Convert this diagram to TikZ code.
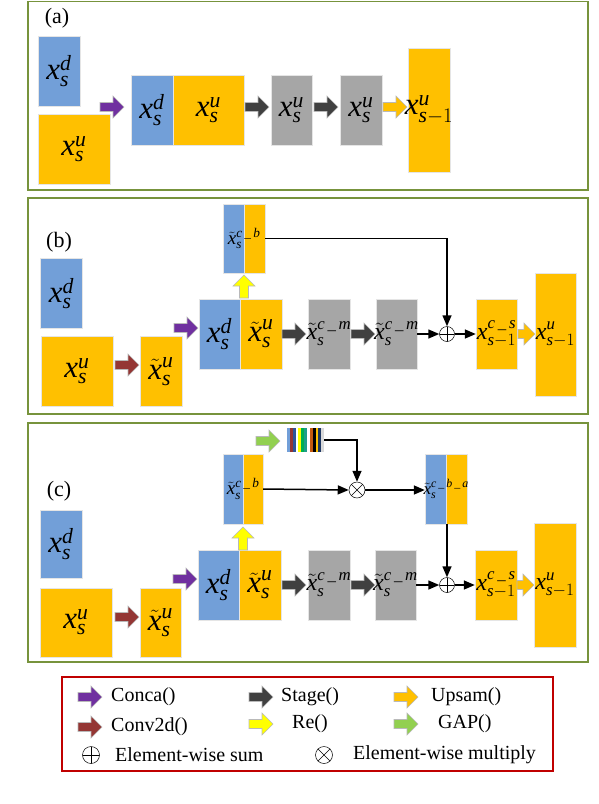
\documentclass[tikz,border=0pt]{standalone}
\usepackage{amsmath}
\usepackage{fontspec}
\setmainfont{Liberation Serif}
\usetikzlibrary{arrows.meta}

\definecolor{cblue}{RGB}{114,159,216}
\definecolor{corange}{RGB}{255,192,0}
\definecolor{cgray}{RGB}{166,166,166}
\definecolor{cpurple}{RGB}{112,48,160}
\definecolor{cdark}{RGB}{64,64,64}
\definecolor{cbrown}{RGB}{148,54,52}
\definecolor{cyellow}{RGB}{255,255,0}
\definecolor{cgreen}{RGB}{146,208,80}
\definecolor{cframe}{RGB}{119,147,60}
\definecolor{clegend}{RGB}{192,0,0}
\definecolor{cnavy}{RGB}{46,85,151}
\definecolor{cgap}{RGB}{0,176,80}
\definecolor{cteal}{RGB}{31,158,137}
\definecolor{crust}{RGB}{197,90,17}
\definecolor{cdeep}{RGB}{31,56,100}
\definecolor{clight}{RGB}{217,217,217}

\newcommand{\xs}[2]{$\textit{x}_{#1}^{#2}$}
\newcommand{\txs}[2]{$\tilde{\textit{x}}_{#1}^{#2}$}

\tikzset{
  box/.style 2 args={rectangle, inner sep=0pt, minimum width=#1, minimum height=#2,
    draw=white!80!gray, line width=0.4pt},
  lbig/.style={font=\fontsize{31}{33}\selectfont, inner sep=0pt},
  lmid/.style={font=\fontsize{24}{26}\selectfont, inner sep=0pt},
  lsmall/.style={font=\fontsize{19}{21}\selectfont, inner sep=0pt},
  ltiny/.style={font=\fontsize{17}{19}\selectfont, inner sep=0pt},
  plabel/.style={font=\fontsize{22}{24}\selectfont},
  legtext/.style={font=\fontsize{20}{22}\selectfont, anchor=west, inner sep=0pt},
  frame/.style={draw=cframe, line width=1.5pt},
  conn/.style={line width=1.5pt, -{Triangle[length=11pt,width=9pt]}},
  sumnode/.style={circle, draw, line width=0.5pt, minimum size=15pt, inner sep=0pt,
    path picture={\draw[line width=0.5pt] (path picture bounding box.north) -- (path picture bounding box.south)
      (path picture bounding box.west) -- (path picture bounding box.east);}},
  mulnode/.style={circle, draw, line width=0.5pt, minimum size=16pt, inner sep=0pt,
    path picture={\draw[line width=0.5pt] (path picture bounding box.north west) -- (path picture bounding box.south east)
      (path picture bounding box.south west) -- (path picture bounding box.north east);}},
  pics/barrow/.style 2 args={code={
    \draw[fill=#1, draw=gray!55, line width=0.6pt] (0,-4.5) -- ({#2-11},-4.5) -- ({#2-11},-11)
      -- (#2,0) -- ({#2-11},11) -- ({#2-11},4.5) -- (0,4.5) -- cycle;}},
  pics/uarrow/.style 2 args={code={
    \draw[fill=#1, draw=gray!55, line width=0.6pt] (-4.5,0) -- (-4.5,{-(#2-11)}) -- (-11,{-(#2-11)})
      -- (0,-#2) -- (11,{-(#2-11)}) -- (4.5,{-(#2-11)}) -- (4.5,0) -- cycle;}}
}

\begin{document}
\begin{tikzpicture}[x=1pt, y=-1pt]
\useasboundingbox (0,0) rectangle (598,804);

% (a)
\draw[frame] (28,1.5) rectangle (588,190);
\node[plabel] (la) at (57,18) {(a)};

\node[box={42}{70}, fill=cblue, label={[lbig]center:\xs{\textit{s}}{\textit{d}}}] (ad) at (59,71) {};
\node[box={72}{70}, fill=corange, label={[lbig]center:\xs{\textit{s}}{\textit{u}}}] (au) at (74,149) {};
\pic at (100,107) {barrow={cpurple}{24}};
\node[box={42}{70}, fill=cblue, label={[lbig]center:\xs{\textit{s}}{\textit{d}}}] (acd) at (152,110) {};
\node[box={71}{70}, fill=corange, label={[lbig]center:\xs{\textit{s}}{\textit{u}}}] (acu) at (208.5,110) {};
\pic at (245,107) {barrow={cdark}{24}};
\node[box={41}{70}, fill=cgray, label={[lbig]center:\xs{\textit{s}}{\textit{u}}}] (ag1) at (291.5,110) {};
\pic at (314,107) {barrow={cdark}{24}};
\node[box={42}{70}, fill=cgray, label={[lbig]center:\xs{\textit{s}}{\textit{u}}}] (ag2) at (361,110) {};
\pic at (383,107) {barrow={corange}{24}};
\node[box={42}{124}, fill=corange, label={[lbig]center:\xs{\textit{s}-1}{\textit{u}}}] (aout) at (429,110) {};

% (b)
\draw[frame] (28,198) rectangle (588,414);
\node[plabel] (lb) at (59,242) {(b)};

\node[box={42}{70}, fill=cblue, label={[lbig]center:\xs{\textit{s}}{\textit{d}}}] (bd) at (61.5,293.5) {};
\node[box={72}{70}, fill=corange, label={[lbig]center:\xs{\textit{s}}{\textit{u}}}] (bu) at (77,371.5) {};
\pic at (115,365) {barrow={cbrown}{24}};
\node[box={42}{70}, fill=corange, label={[lbig]center:\txs{\textit{s}}{\textit{u}}}] (bt) at (161,371.5) {};
\pic at (174,328) {barrow={cpurple}{24}};
\node[box={41}{70}, fill=cblue, label={[lbig]center:\xs{\textit{s}}{\textit{d}}}] (bcd) at (219.5,334) {};
\node[box={42}{70}, fill=corange, label={[lbig]center:\txs{\textit{s}}{\textit{u}}}] (bcu) at (261,334) {};
\pic at (244,298) {uarrow={cyellow}{23}};
\node[box={21}{69}, fill=cblue] (bbd) at (233.5,238.5) {};
\node[box={21}{69}, fill=corange] (bbu) at (254.5,238.5) {};
\node[lsmall] (bbl) at (bbd.east) {\txs{\textit{s}}{\textit{c\,\_\,b}}};
\pic at (282,334) {barrow={cdark}{24}};
\node[box={42}{70}, fill=cgray, label={[lmid]center:\txs{\textit{s}}{\textit{c\,\_\,m}}}] (bg1) at (329,334) {};
\pic at (351,334) {barrow={cdark}{24}};
\node[box={41}{70}, fill=cgray, label={[lmid]center:\txs{\textit{s}}{\textit{c\,\_\,m}}}] (bg2) at (396.5,334) {};
\node[sumnode] (bsum) at (447,334) {};
\node[box={41}{70}, fill=corange, label={[lmid]center:\xs{\textit{s}-1}{\textit{c\,\_\,s}}}] (bcs) at (496.5,334) {};
\pic at (518,334) {barrow={corange}{17}};
\node[box={41}{123}, fill=corange, label={[lmid]center:\xs{\textit{s}-1}{\textit{u}}}] (bout) at (555.5,334.5) {};

\draw[conn] (bbu.east) -| (bsum.north);
\draw[conn] (bg2.east) -- (bsum.west);
\draw[conn] (bsum.east) -- (bcs.west);

% (c)
\draw[frame] (28,423) rectangle (588,662);
\node[plabel] (lc) at (59,491) {(c)};

\node[box={42}{68}, fill=cblue, label={[lbig]center:\xs{\textit{s}}{\textit{d}}}] (cd) at (61,544) {};
\node[box={72}{69}, fill=corange, label={[lbig]center:\xs{\textit{s}}{\textit{u}}}] (cu) at (76,622.5) {};
\pic at (115,617) {barrow={cbrown}{24}};
\node[box={41}{69}, fill=corange, label={[lbig]center:\txs{\textit{s}}{\textit{u}}}] (ct) at (160.5,622.5) {};
\pic at (173,579) {barrow={cpurple}{24}};
\node[box={41}{70}, fill=cblue, label={[lbig]center:\xs{\textit{s}}{\textit{d}}}] (ccd) at (218.5,585) {};
\node[box={42}{70}, fill=corange, label={[lbig]center:\txs{\textit{s}}{\textit{u}}}] (ccu) at (260,585) {};
\pic at (243,550) {uarrow={cyellow}{23}};
\node[box={20}{70}, fill=cblue] (cbd) at (233,489) {};
\node[box={20}{70}, fill=corange] (cbu) at (253,489) {};
\node[lsmall] (cbl) at (cbd.east) {\txs{\textit{s}}{\textit{c\,\_\,b}}};
\pic at (256,441) {barrow={cgreen}{24}};
\node[box={37}{24}, draw=none] (cbar) at (305.5,440) {};
\foreach \c [count=\i] in {cblue,cbrown,cnavy,white,cyellow,cgap,cteal,white,crust,black,corange,cdeep,clight}
  \fill[\c] ({287+(\i-1)*2.85},428) rectangle +(2.85,24);
\node[mulnode] (cmul) at (357,490) {};
\node[box={21}{70}, fill=cblue] (cbad) at (435.5,489) {};
\node[box={21}{70}, fill=corange] (cbau) at (456.5,489) {};
\node[ltiny] (cbal) at (cbad.east) {\txs{\textit{s}}{\textit{c\,\_\,b\,\_\,a}}};
\pic at (282,585) {barrow={cdark}{24}};
\node[box={42}{70}, fill=cgray, label={[lmid]center:\txs{\textit{s}}{\textit{c\,\_\,m}}}] (cg1) at (329,585) {};
\pic at (351,585) {barrow={cdark}{24}};
\node[box={41}{70}, fill=cgray, label={[lmid]center:\txs{\textit{s}}{\textit{c\,\_\,m}}}] (cg2) at (395.5,585) {};
\node[sumnode] (csum) at (447,585) {};
\node[box={42}{70}, fill=corange, label={[lmid]center:\xs{\textit{s}-1}{\textit{c\,\_\,s}}}] (ccs) at (496,585) {};
\pic at (517,585) {barrow={corange}{17}};
\node[box={42}{124}, fill=corange, label={[lmid]center:\xs{\textit{s}-1}{\textit{u}}}] (cout) at (555,585) {};

\draw[conn] (cbar.east) -| (cmul.north);
\draw[conn] (cbu.east) -- (cmul.west);
\draw[conn] (cmul.east) -- (cmul -| cbad.west);
\draw[conn] (csum.north |- cbad.south) -- (csum.north);
\draw[conn] (cg2.east) -- (csum.west);
\draw[conn] (csum.east) -- (ccs.west);

% legend
\draw[draw=clegend, line width=1.3pt] (62,677) rectangle (553,771);
\pic at (78,697) {barrow={cpurple}{24}};
\node[legtext] (t1) at (111,697) {Conca()};
\pic at (249,697) {barrow={cdark}{24}};
\node[legtext] (t2) at (281,697) {Stage()};
\pic at (394,697) {barrow={corange}{24}};
\node[legtext] (t3) at (431,697) {Upsam()};
\pic at (78,727) {barrow={cbrown}{24}};
\node[legtext] (t4) at (111,727) {Conv2d()};
\pic at (249,724) {barrow={cyellow}{24}};
\node[legtext] (t5) at (292,724) {Re()};
\pic at (394,724) {barrow={cgreen}{24}};
\node[legtext] (t6) at (438,724) {GAP()};
\node[sumnode, minimum size=17pt] (lsum) at (91,755) {};
\node[legtext] (t7) at (115,755) {Element-wise sum};
\node[mulnode, minimum size=17pt] (lmul) at (324,755) {};
\node[legtext] (t8) at (353,755) {Element-wise multiply};

\end{tikzpicture}
\end{document}
